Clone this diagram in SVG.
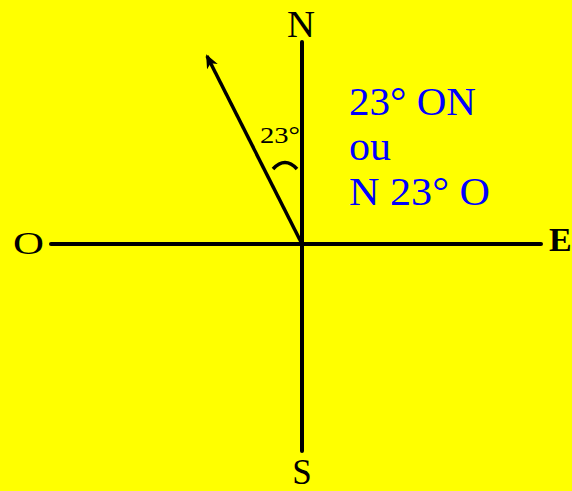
<svg xmlns="http://www.w3.org/2000/svg" width="572" height="491" viewBox="0 0 572 491">
<style>
.ax{stroke:#000;stroke-width:4;fill:none;stroke-linecap:round}
.lbl{font-family:"Liberation Serif",serif;fill:#000}
.blue{font-family:"Liberation Serif",serif;fill:#0000ff;font-size:40px}
</style>
<defs>
<marker id="ah" markerWidth="14" markerHeight="12" refX="12" refY="6" orient="auto" markerUnits="userSpaceOnUse">
<path d="M0,0 L14,6 L0,12 L4,6 Z" fill="#000"/>
</marker>
</defs>
<rect width="572" height="491" fill="#ffff00"/>
<g id="connectors">
<line class="ax" x1="302" y1="42" x2="302" y2="451"/>
<line class="ax" x1="51" y1="244" x2="541" y2="244"/>
<line x1="302" y1="244" x2="207" y2="56" stroke="#000" stroke-width="3.5" marker-end="url(#ah)"/>
<path d="M273,169 Q285,156 297,169" stroke="#000" stroke-width="3.5" fill="none"/>
</g>
<g id="N"><text class="lbl" x="301" y="37" font-size="38" text-anchor="middle" textLength="28" lengthAdjust="spacingAndGlyphs">N</text></g>
<g id="S"><text class="lbl" x="302" y="484" font-size="35" text-anchor="middle">S</text></g>
<g id="O"><text class="lbl" x="13" y="254" font-size="31" textLength="31" lengthAdjust="spacingAndGlyphs">O</text></g>
<g id="E"><text class="lbl" x="549" y="251" font-size="34" font-weight="bold">E</text></g>
<g id="angle"><text class="lbl" x="260" y="143" font-size="23" textLength="40" lengthAdjust="spacingAndGlyphs">23°</text></g>
<g id="desc">
<text class="blue" x="349" y="115" textLength="127" lengthAdjust="spacingAndGlyphs">23° ON</text>
<text class="blue" x="349" y="160" textLength="42" lengthAdjust="spacingAndGlyphs">ou</text>
<text class="blue" x="349" y="205" textLength="141" lengthAdjust="spacingAndGlyphs">N 23° O</text>
</g>
</svg>
